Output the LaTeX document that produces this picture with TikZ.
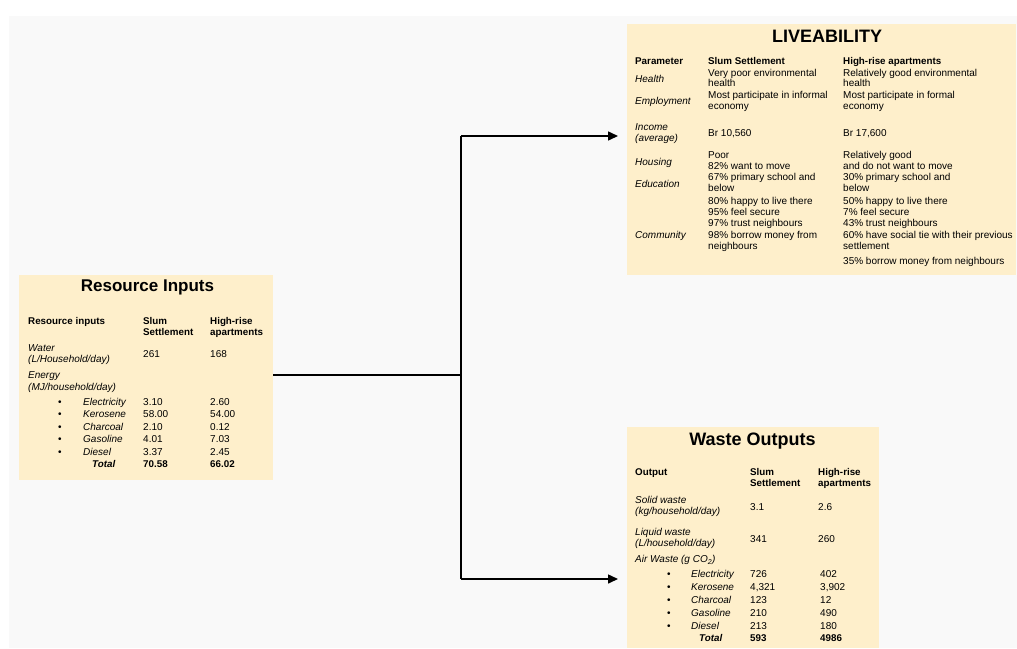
\documentclass[tikz,border=0pt]{standalone}
\usepackage{fontspec}
\setmainfont{Liberation Sans}
\usetikzlibrary{arrows.meta}
\definecolor{peach}{HTML}{FEEFCB}
\definecolor{bggray}{HTML}{F9F9F9}
\tikzset{
  panel/.style={fill=peach, draw=none, inner sep=0, anchor=north west},
  txt/.style={anchor=base west, inner sep=0, font=\fontsize{10}{11}\selectfont},
  hd/.style={txt, font=\fontsize{9.8}{11}\selectfont\bfseries},
  itx/.style={txt, font=\fontsize{10}{11}\selectfont\itshape},
  bit/.style={txt, font=\fontsize{9.8}{11}\selectfont\bfseries\itshape},
  bul/.style={txt, font=\fontsize{10}{11}\selectfont},
  ttl/.style={anchor=base, inner sep=0, font=\fontsize{18}{20}\selectfont\bfseries},
  ln/.style={line width=1.5pt},
  arr/.style={line width=1.5pt, -{Triangle[length=10pt,width=9pt]}},
}
\begin{document}
\begin{tikzpicture}[x=1pt, y=-1pt]
\useasboundingbox (0,0) rectangle (1017,648);
\fill[white] (0,0) rectangle (1017,648);
\fill[bggray] (9,16) rectangle (1017,648);

% panels
\node[panel, minimum width=389pt, minimum height=251pt] (liv) at (627,24) {};
\node[panel, minimum width=254pt, minimum height=205pt] (res) at (19,275) {};
\node[panel, minimum width=252pt, minimum height=221pt] (was) at (627,427) {};

% connectors
\coordinate (j)  at (461,375);
\coordinate (jt) at (461,136);
\coordinate (jb) at (461,579);
\draw[ln] (res.east |- j) -- (j);
\draw[ln] (jt) -- (jb);
\draw[arr, shorten >=9pt] (jt) -- (liv.west |- jt);
\draw[arr, shorten >=9pt] (jb) -- (was.west |- jb);

% ---------- LIVEABILITY ----------
\node[ttl] (livT) at (827,42) {LIVEABILITY};
\node[hd] (lh1) at (635,64.5) {Parameter};
\node[hd] (lh2) at (708,64.5) {Slum Settlement};
\node[hd] (lh3) at (843,64.5) {High-rise apartments};

\node[itx] (lp1) at (635,82) {Health};
\node[txt] (ls1a) at (708,76) {Very poor environmental};
\node[txt] (ls1b) at (708,86.5) {health};
\node[txt] (lr1a) at (843,76) {Relatively good environmental};
\node[txt] (lr1b) at (843,86.5) {health};

\node[itx] (lp2) at (635,104) {Employment};
\node[txt] (ls2a) at (708,98) {Most participate in informal};
\node[txt] (ls2b) at (708,109) {economy};
\node[txt] (lr2a) at (843,98) {Most participate in formal};
\node[txt] (lr2b) at (843,109) {economy};

\node[itx] (lp3a) at (635,130) {Income};
\node[itx] (lp3b) at (635,141.5) {(average)};
\node[txt] (ls3) at (708,136) {Br 10,560};
\node[txt] (lr3) at (843,136) {Br 17,600};

\node[itx] (lp4) at (635,165) {Housing};
\node[txt] (ls4a) at (708,158.5) {Poor};
\node[txt] (ls4b) at (708,169) {82\% want to move};
\node[txt] (lr4a) at (843,158.5) {Relatively good};
\node[txt] (lr4b) at (843,169) {and do not want to move};

\node[itx] (lp5) at (635,187) {Education};
\node[txt] (ls5a) at (708,180) {67\% primary school and};
\node[txt] (ls5b) at (708,191) {below};
\node[txt] (lr5a) at (843,180) {30\% primary school and};
\node[txt] (lr5b) at (843,191) {below};

\node[txt] (ls6a) at (708,204) {80\% happy to live there};
\node[txt] (ls6b) at (708,215) {95\% feel secure};
\node[txt] (ls6c) at (708,226) {97\% trust neighbours};
\node[txt] (ls6d) at (708,238) {98\% borrow money from};
\node[txt] (ls6e) at (708,249.5) {neighbours};
\node[itx] (lp6) at (635,238) {Community};
\node[txt] (lr6a) at (843,204) {50\% happy to live there};
\node[txt] (lr6b) at (843,215) {7\% feel secure};
\node[txt] (lr6c) at (843,226) {43\% trust neighbours};
\node[txt] (lr6d) at (843,238) {60\% have social tie with their previous};
\node[txt] (lr6e) at (843,249.5) {settlement};
\node[txt] (lr6f) at (843,264) {35\% borrow money from neighbours};

% ---------- Resource Inputs ----------
\node[ttl, font=\fontsize{17}{19}\selectfont\bfseries] (resT) at (147.5,291.5) {Resource Inputs};
\node[hd] (rh1) at (28,324) {Resource inputs};
\node[hd] (rh2a) at (143,324) {Slum};
\node[hd] (rh2b) at (143,335) {Settlement};
\node[hd] (rh3a) at (210,324) {High-rise};
\node[hd] (rh3b) at (210,335) {apartments};

\node[itx] (rw1) at (28,351.5) {Water};
\node[itx] (rw2) at (28,362) {(L/Household/day)};
\node[txt] (rw3) at (143,357) {261};
\node[txt] (rw4) at (210,357) {168};

\node[itx] (re1) at (28,378.5) {Energy};
\node[itx] (re2) at (28,390) {(MJ/household/day)};

\node[bul] (rb1) at (58,405) {•};
\node[itx] (rl1) at (83,405) {Electricity};
\node[txt] (rv1) at (143,405) {3.10};
\node[txt] (rx1) at (210,405) {2.60};

\node[bul] (rb2) at (58,417.5) {•};
\node[itx] (rl2) at (83,417.5) {Kerosene};
\node[txt] (rv2) at (143,417.5) {58.00};
\node[txt] (rx2) at (210,417.5) {54.00};

\node[bul] (rb3) at (58,430) {•};
\node[itx] (rl3) at (83,430) {Charcoal};
\node[txt] (rv3) at (143,430) {2.10};
\node[txt] (rx3) at (210,430) {0.12};

\node[bul] (rb4) at (58,442.5) {•};
\node[itx] (rl4) at (83,442.5) {Gasoline};
\node[txt] (rv4) at (143,442.5) {4.01};
\node[txt] (rx4) at (210,442.5) {7.03};

\node[bul] (rb5) at (58,455) {•};
\node[itx] (rl5) at (83,455) {Diesel};
\node[txt] (rv5) at (143,455) {3.37};
\node[txt] (rx5) at (210,455) {2.45};

\node[bit] (rl6) at (92,467.5) {Total};
\node[hd] (rv6) at (143,467.5) {70.58};
\node[hd] (rx6) at (210,467.5) {66.02};

% ---------- Waste Outputs ----------
\node[ttl] (wasT) at (752.5,445) {Waste Outputs};
\node[hd] (wh1) at (635,475) {Output};
\node[hd] (wh2a) at (750,475) {Slum};
\node[hd] (wh2b) at (750,486.5) {Settlement};
\node[hd] (wh3a) at (818,475) {High-rise};
\node[hd] (wh3b) at (818,486.5) {apartments};

\node[itx] (ws1) at (635,503) {Solid waste};
\node[itx] (ws2) at (635,514) {(kg/household/day)};
\node[txt] (ws3) at (750,510) {3.1};
\node[txt] (ws4) at (818,510) {2.6};

\node[itx] (wl1) at (635,535) {Liquid waste};
\node[itx] (wl2) at (635,546.5) {(L/household/day)};
\node[txt] (wl3) at (750,542.5) {341};
\node[txt] (wl4) at (818,542.5) {260};

\node[itx] (wa) at (635,562.5) {Air Waste (g CO\textsubscript{2})};

\node[bul] (wb1) at (667,577.5) {•};
\node[itx] (wn1) at (691,577.5) {Electricity};
\node[txt] (wv1) at (750,577.5) {726};
\node[txt] (wx1) at (820,577.5) {402};

\node[bul] (wb2) at (667,590.5) {•};
\node[itx] (wn2) at (691,590.5) {Kerosene};
\node[txt] (wv2) at (750,590.5) {4,321};
\node[txt] (wx2) at (820,590.5) {3,902};

\node[bul] (wb3) at (667,603.5) {•};
\node[itx] (wn3) at (691,603.5) {Charcoal};
\node[txt] (wv3) at (750,603.5) {123};
\node[txt] (wx3) at (820,603.5) {12};

\node[bul] (wb4) at (667,616.5) {•};
\node[itx] (wn4) at (691,616.5) {Gasoline};
\node[txt] (wv4) at (750,616.5) {210};
\node[txt] (wx4) at (820,616.5) {490};

\node[bul] (wb5) at (667,629.5) {•};
\node[itx] (wn5) at (691,629.5) {Diesel};
\node[txt] (wv5) at (750,629.5) {213};
\node[txt] (wx5) at (820,629.5) {180};

\node[bit] (wn6) at (699,641) {Total};
\node[hd] (wv6) at (750,641) {593};
\node[hd] (wx6) at (820,641) {4986};
\end{tikzpicture}
\end{document}
